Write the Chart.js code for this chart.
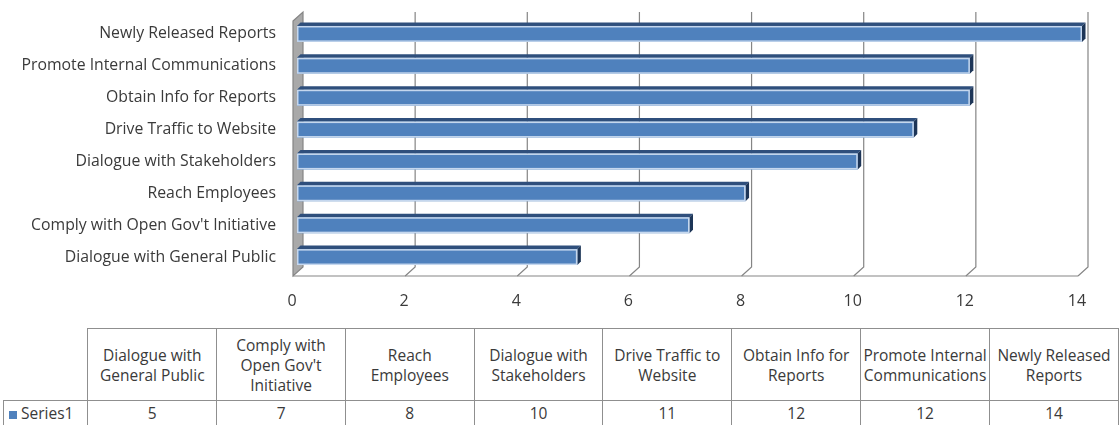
<!DOCTYPE html>
<html><head><meta charset="utf-8">
<script src="https://cdn.jsdelivr.net/npm/chart.js@4"></script>
<style>
html,body{margin:0;padding:0;background:#fff;}
#wrap{position:relative;width:1119px;height:425px;overflow:hidden;font-family:'Open Sans', sans-serif;}
#c{position:absolute;left:0;top:0;}
table{position:absolute;border-collapse:collapse;color:#3a3a3a;font-size:15.5px;font-family:'Open Sans', sans-serif;}
td{border:1.5px solid #8f8f8f;text-align:center;padding:0;line-height:20px;white-space:nowrap;}
</style></head>
<body><div id="wrap"><canvas id="c" width="1119" height="318"></canvas><div id="tbl"></div></div>
<script>
const categories = ["Newly Released Reports","Promote Internal Communications","Obtain Info for Reports","Drive Traffic to Website","Dialogue with Stakeholders","Reach Employees","Comply with Open Gov't Initiative","Dialogue with General Public"];
const values = [14,12,12,11,10,8,7,5];
const seriesName = "Series1";
const xTicks = [0,2,4,6,8,10,12,14];
// table order (as in reference: reversed) with line breaks
const tableHeaders = ["Dialogue with<br>General Public","Comply with<br>Open Gov't<br>Initiative","Reach<br>Employees","Dialogue with<br>Stakeholders","Drive Traffic to<br>Website","Obtain Info for<br>Reports","Promote Internal<br>Communications","Newly Released<br>Reports"];

const FRONT = {dx:-4, dy:3};
const BACK = {dx:6, dy:-6};
const TOPY = 12;
const GRID = '#858585';
const FONT = "'Open Sans'";

const walls = {
  id:'walls',
  beforeDatasetsDraw(chart){
    const ctx = chart.ctx, xs = chart.scales.x, a = chart.chartArea;
    const fb = a.bottom + FRONT.dy, bb = a.bottom + BACK.dy;
    ctx.save();
    ctx.strokeStyle = GRID; ctx.lineWidth = 1.2;
    xTicks.forEach(v => {
      const x = xs.getPixelForValue(v);
      if (v !== 0) {
        ctx.beginPath();
        ctx.moveTo(x + BACK.dx, TOPY); ctx.lineTo(x + BACK.dx, bb);
        ctx.lineTo(x + FRONT.dx, fb);
        ctx.stroke();
      }
    });
    const x0 = xs.getPixelForValue(0), x1 = xs.getPixelForValue(14);
    ctx.beginPath(); ctx.moveTo(x0 + FRONT.dx, fb); ctx.lineTo(x1 + FRONT.dx, fb); ctx.stroke();
    // left wall
    ctx.fillStyle = '#a9a9a9';
    ctx.beginPath();
    ctx.moveTo(x0 + FRONT.dx, TOPY + 9);
    ctx.lineTo(x0 + BACK.dx, TOPY);
    ctx.lineTo(x0 + BACK.dx, bb);
    ctx.lineTo(x0 + FRONT.dx, fb);
    ctx.closePath(); ctx.fill();
    ctx.strokeStyle = '#858585'; ctx.stroke();
    // x tick labels
    ctx.fillStyle = '#3a3a3a'; ctx.font = '16px ' + FONT; ctx.textAlign = 'center'; ctx.textBaseline = 'middle';
    xTicks.forEach(v => ctx.fillText(String(v), xs.getPixelForValue(v) + FRONT.dx - 1, 301));
    ctx.restore();
  },
  afterDatasetsDraw(chart){
    const ctx = chart.ctx, meta = chart.getDatasetMeta(0);
    const d = 3.5;
    ctx.save();
    meta.data.forEach(bar => {
      const p = bar.getProps(['x','y','base','height'], true);
      const top = p.y - p.height/2, bot = p.y + p.height/2;
      const xl = p.base, xr = p.x;
      ctx.fillStyle = '#2f4f7c';
      ctx.beginPath(); ctx.moveTo(xl, top); ctx.lineTo(xr, top); ctx.lineTo(xr + d, top - d); ctx.lineTo(xl + d, top - d); ctx.closePath(); ctx.fill();
      ctx.fillStyle = '#1d3557';
      ctx.beginPath(); ctx.moveTo(xr, top); ctx.lineTo(xr + d, top - d); ctx.lineTo(xr + d, bot - d); ctx.lineTo(xr, bot); ctx.closePath(); ctx.fill();
      ctx.strokeStyle = '#c5d7ee'; ctx.lineWidth = 1.5;
      ctx.strokeRect(xl + 0.75, top + 0.75, xr - xl - 1.5, bot - top - 1.5);
    });
    ctx.restore();
  }
};

new Chart(document.getElementById('c'), {
  type:'bar',
  data:{labels:categories, datasets:[{label:seriesName, data:values, backgroundColor:'#4f81bd', borderWidth:0, barPercentage:0.5, categoryPercentage:1}]},
  options:{
    indexAxis:'y', responsive:false, animation:false,
    layout:{padding:{top:18,right:37,bottom:45,left:0}},
    plugins:{legend:{display:false}, tooltip:{enabled:false}},
    scales:{
      x:{min:0,max:14,display:false,ticks:{stepSize:2}},
      y:{grid:{display:false,drawTicks:false}, border:{display:false},
         ticks:{padding:21,color:'#3a3a3a',font:{family:'Open Sans',size:15.8}},
         afterFit(s){ s.width = 297; s.paddingTop = 0; s.paddingBottom = 0; }}
    }
  },
  plugins:[walls]
});

(function(){
  let h = '<table style="left:3px;top:328px;">';
  h += '<tr style="height:72px"><td style="width:84px;border:none;border-bottom:1.5px solid #8f8f8f"></td>';
  tableHeaders.forEach(t => h += '<td style="width:128px">' + t + '</td>');
  h += '</tr><tr style="height:25px"><td style="text-align:left;padding-left:5px"><span style="display:inline-block;width:8px;height:8px;background:#4f81bd;margin-right:4px"></span>' + seriesName + '</td>';
  values.slice().reverse().forEach(v => h += '<td>' + v + '</td>');
  h += '</tr></table>';
  document.getElementById('tbl').innerHTML = h;
})();
</script></body></html>
